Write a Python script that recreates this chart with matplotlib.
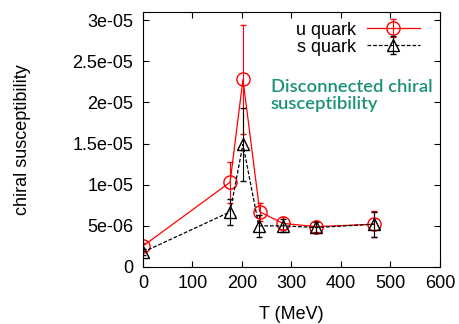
import numpy as np
import matplotlib
matplotlib.use("Agg")
import matplotlib.pyplot as plt

plt.rcParams['font.family'] = ['Liberation Sans', 'DejaVu Sans']

# temperatures (MeV)
T_u = [0, 176, 202, 236, 283, 350, 467]
T_s = [0, 176, 202, 234, 283, 350, 467]

# disconnected chiral susceptibility
chi_u = [2.55e-6, 10.3e-6, 22.8e-6, 6.7e-6, 5.3e-6, 4.9e-6, 5.2e-6]
err_u = [0.4e-6, 2.5e-6, 6.6e-6, 1.1e-6, 0.8e-6, 0.7e-6, 1.6e-6]
chi_s = [1.8e-6, 6.7e-6, 14.9e-6, 5.0e-6, 5.0e-6, 4.8e-6, 5.2e-6]
err_s = [0.4e-6, 1.6e-6, 4.4e-6, 1.3e-6, 0.8e-6, 0.7e-6, 1.5e-6]

xticks = [0, 100, 200, 300, 400, 500, 600]
yticks = [0, 5e-6, 1e-5, 1.5e-5, 2e-5, 2.5e-5, 3e-5]
ylabels = ["0", "5e-06", "1e-05", "1.5e-05", "2e-05", "2.5e-05", "3e-05"]

fig = plt.figure(figsize=(4.59, 3.24), dpi=100)
ax = fig.add_axes([0.3115, 0.176, 0.647, 0.787])

ax.errorbar(T_u, chi_u, yerr=err_u, color="red", marker="o", ms=9.5, mfc="none",
            mew=1.0, lw=0.9, capsize=2, elinewidth=0.8, label="u quark")
ax.errorbar(T_s, chi_s, yerr=err_s, color="black", marker="^", ms=9, mfc="none",
            mew=1.0, lw=0.9, ls=(0, (3, 1.5)), capsize=2, elinewidth=0.8, label="s quark")

ax.set_xlim(0, 600)
ax.set_ylim(0, 3.1e-5)
ax.set_xticks(xticks)
ax.set_yticks(yticks)
ax.set_yticklabels(ylabels)
ax.tick_params(direction="in", top=True, right=True, labelsize=13, length=4)
ax.tick_params(axis="y", pad=7)
ax.tick_params(axis="x", pad=6)
ax.set_xlabel("T (MeV)", fontsize=13, labelpad=10)
ax.set_ylabel("chiral susceptibility", fontsize=13, labelpad=30)

ax.text(258, 2.29e-5, "Disconnected chiral\nsusceptibility", color="#1a9275",
        fontsize=13.2, va="top", ha="left", linespacing=1.1,
        family=["Lato", "DejaVu Sans"], fontweight="semibold")

ax.legend(loc="upper right", bbox_to_anchor=(0.956, 0.99), frameon=False,
          fontsize=13, markerfirst=False, handlelength=2.9, borderaxespad=0,
          labelspacing=0.0, handletextpad=0.6)

fig.savefig("out.png", dpi=100)
